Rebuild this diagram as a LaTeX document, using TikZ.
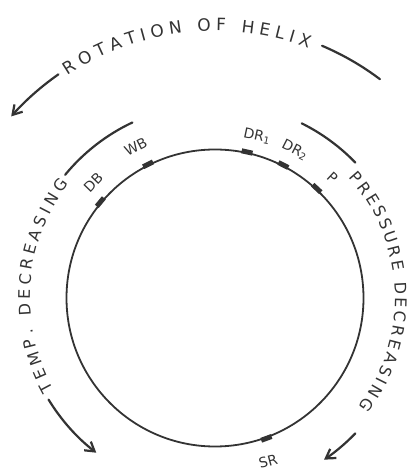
\documentclass[tikz,border=0pt]{standalone}
\usepackage{fontspec}
\setmainfont{DejaVu Sans}
\usetikzlibrary{decorations.text,arrows.meta}
\definecolor{ink}{gray}{0.2}
\newcommand\arcfont{\fontsize{17}{17}\selectfont}
\newcommand\sidefont{\fontsize{16}{16}\selectfont}
\begin{document}
\begin{tikzpicture}[x=1pt,y=1pt,
  inkline/.style={draw=ink, line width=2.2pt, line cap=round},
  ring/.style={circle, draw=ink, line width=1.8pt, minimum size=297pt, inner sep=0pt},
  marker/.style={rectangle, fill=ink, minimum width=11pt, minimum height=5pt, inner sep=0pt},
  lbl/.style={text=ink, font=\fontsize{14}{14}\selectfont, inner sep=0pt},
  tip/.style={-{Straight Barb[length=9pt,width=11pt]}},
  curvetext/.style={decorate, decoration={text along path, text align=fit to path, text color=ink, text={#1}}}
]
\useasboundingbox (0,0) rectangle (416,473);
\node[ring] (C) at (215,175) {};
% markers on the circle
\path (C.center) ++(140.1:149.5) node[marker, rotate=50.1] (mDB) {};
\path (C.center) ++(116.6:149.5) node[marker, rotate=26.6] (mWB) {};
\path (C.center) ++(77.6:149.5) node[marker, rotate=-12.4] (mDRa) {};
\path (C.center) ++(62.8:149.5) node[marker, rotate=-27.2] (mDRb) {};
\path (C.center) ++(47.1:149.5) node[marker, rotate=-42.9] (mP) {};
\path (C.center) ++(-69.9:149.5) node[marker, rotate=20.1] (mSR) {};
% labels
\path (C.center) ++(136.4:168) node[lbl, rotate=46] (lDB) {DB};
\path (C.center) ++(117.6:171) node[lbl, rotate=27] (lWB) {WB};
\path (C.center) ++(75.4:167) node[lbl, rotate=-12] (lDRa) {DR\textsubscript{1}};
\path (C.center) ++(61.6:168) node[lbl, rotate=-27] (lDRb) {DR\textsubscript{2}};
\path (C.center) ++(45.7:168) node[lbl, rotate=-43] (lP) {P};
\path (C.center) ++(-72:172) node[lbl, rotate=15] (lSR) {SR};
% rotation of helix
\draw[inkline] (C.center) ++(53:274) arc[start angle=53, end angle=67, radius=274];
\draw[inkline, tip] (C.center) ++(125:273) arc[start angle=125, end angle=138.3, radius=273];
{\arcfont
\path[curvetext={|\arcfont|ROTATION OF HELIX}] (C.center) ++(123.5:267) arc[start angle=123.5, end angle=69.5, radius=267];
}
% temp decreasing
\draw[inkline] (C.center) ++(115.2:194) arc[start angle=115.2, end angle=140.6, radius=194];
\draw[inkline, tip] (C.center) ++(211.4:195) arc[start angle=211.4, end angle=232.5, radius=195];
{\sidefont
\path[curvetext={|\sidefont|TEMP. DECREASING}] (C.center) ++(209.5:185) arc[start angle=209.5, end angle=142, radius=185];
% pressure decreasing
\path[curvetext={|\sidefont|PRESSURE DECREASING}] (C.center) ++(42:180) arc[start angle=42, end angle=-37, radius=180];
}
\draw[inkline] (C.center) ++(63.6:195) arc[start angle=63.6, end angle=44, radius=195];
\draw[inkline, tip] (C.center) ++(-44:195) arc[start angle=-44, end angle=-56, radius=195];
\end{tikzpicture}
\end{document}
